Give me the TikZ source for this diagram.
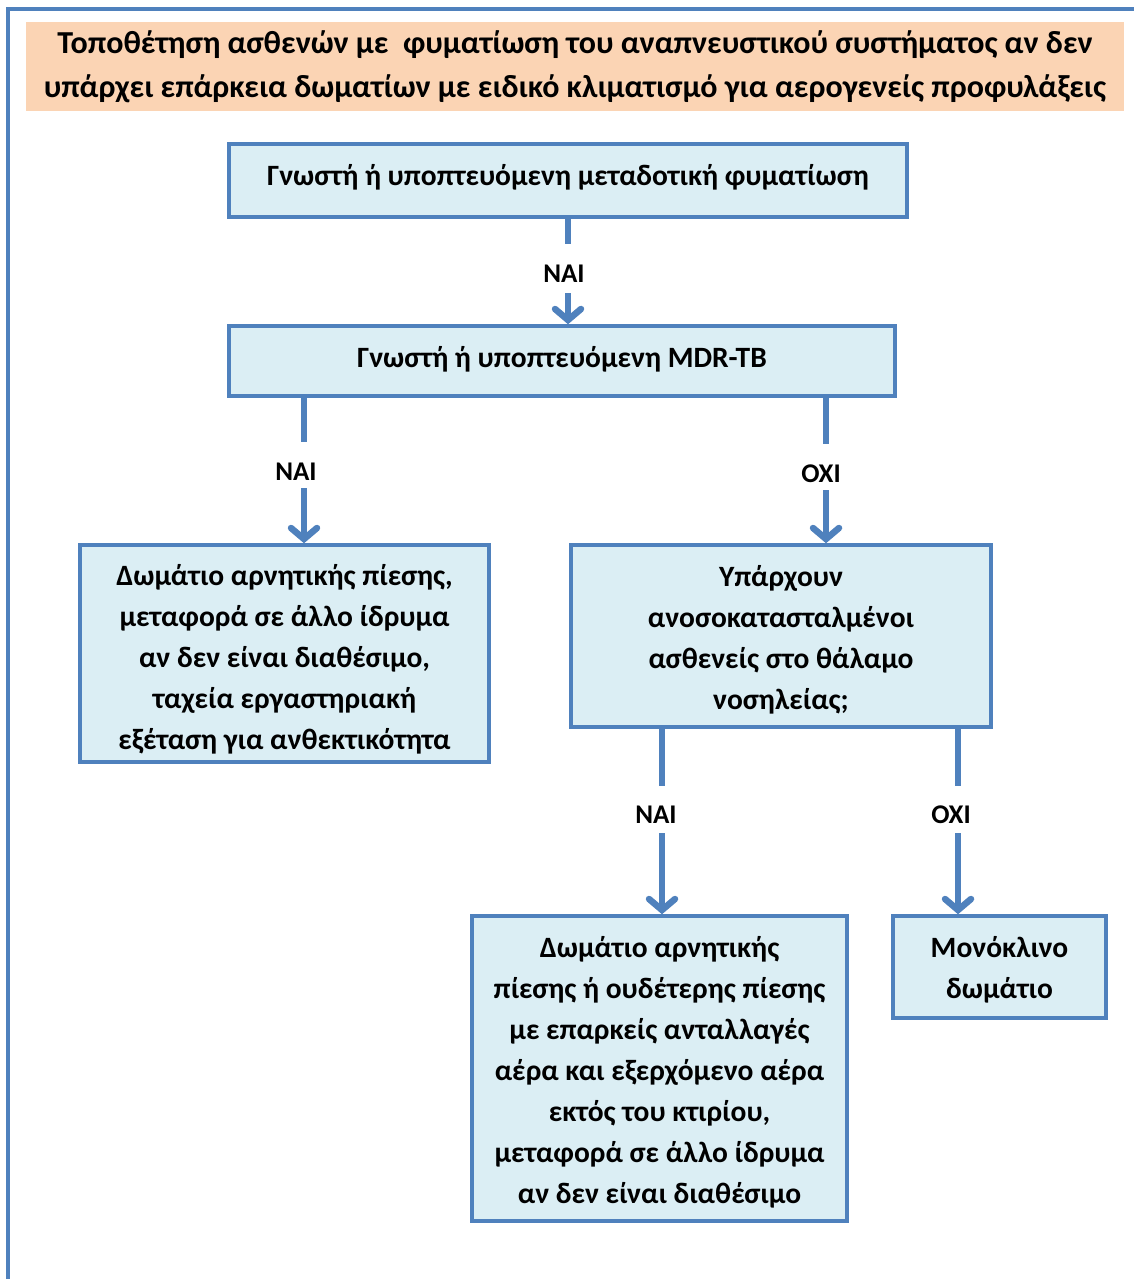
\documentclass[tikz,border=0pt]{standalone}
\usepackage{fontspec}
\setmainfont{Carlito}
\usetikzlibrary{arrows.meta}
\definecolor{edgeblue}{HTML}{4F81BD}
\definecolor{boxfill}{HTML}{DBEEF4}
\definecolor{peach}{HTML}{FBD4B4}
\begin{document}
\begin{tikzpicture}[x=1pt,y=-1pt,
  box/.style={draw=edgeblue,fill=boxfill,line width=3.5pt,inner sep=0pt},
  txt/.style={align=center,inner sep=0pt,font=\fontsize{29.5}{41}\selectfont\bfseries},
  lbl/.style={font=\fontsize{27}{30}\selectfont\bfseries,inner sep=0pt},
  conn/.style={draw=edgeblue,line width=6.5pt},
  arr/.style={conn,-{Straight Barb[length=11pt,width=26pt,line cap=round]}}]
\useasboundingbox (0,0) rectangle (1134,1279);
\fill[white] (0,0) rectangle (1134,1279);
% outer frame
\draw[draw=edgeblue,line width=4.5pt,line join=miter] (8,1279) -- (8,9) -- (1134,9);
% header
\node[fill=peach,minimum width=1098pt,minimum height=89pt,inner sep=0pt,align=center,
  font=\fontsize{32}{44}\selectfont\bfseries] (head) at (575,66.5)
  {Τοποθέτηση ασθενών με\ \ φυματίωση του αναπνευστικού συστήματος αν δεν\\
   υπάρχει επάρκεια δωματίων με ειδικό κλιματισμό για αερογενείς προφυλάξεις};
% boxes
\node[box,minimum width=678pt,minimum height=73pt] (b1) at (568,180.5) {};
\node[box,minimum width=666pt,minimum height=70pt] (b2) at (562,361) {};
\node[box,minimum width=409pt,minimum height=217pt] (b3) at (284.5,653.5) {};
\node[box,minimum width=420pt,minimum height=182pt] (b4) at (781,636) {};
\node[box,minimum width=375pt,minimum height=305pt] (b5) at (659.5,1068.5) {};
\node[box,minimum width=213pt,minimum height=102pt] (b6) at (999.5,967) {};
% box texts
\node[txt] (t1) at ([yshift=3pt]b1.center) {Γνωστή ή υποπτευόμενη μεταδοτική φυματίωση};
\node[txt] (t2) at ([yshift=2pt]b2.center) {Γνωστή ή υποπτευόμενη MDR-TB};
\node[txt] (t3) at ([yshift=-6pt]b3.center)
  {Δωμάτιο αρνητικής πίεσης,\\ μεταφορά σε άλλο ίδρυμα\\ αν δεν είναι διαθέσιμο,\\
   ταχεία εργαστηριακή\\ εξέταση για ανθεκτικότητα};
\node[txt] (t4) at ([yshift=-4pt]b4.center)
  {Υπάρχουν\\ ανοσοκατασταλμένοι\\ ασθενείς στο θάλαμο\\ νοσηλείας;};
\node[txt] (t5) at ([yshift=-4pt]b5.center)
  {Δωμάτιο αρνητικής\\ πίεσης ή ουδέτερης πίεσης\\ με επαρκείς ανταλλαγές\\
   αέρα και εξερχόμενο αέρα\\ εκτός του κτιρίου,\\ μεταφορά σε άλλο ίδρυμα\\ αν δεν είναι διαθέσιμο};
\node[txt] (t6) at ([yshift=-3pt]b6.center) {Μονόκλινο\\ δωμάτιο};
% labels
\node[lbl] (l1) at (564,274) {NAI};
\node[lbl] (l2) at (296,472) {NAI};
\node[lbl] (l3) at (821,474) {OXI};
\node[lbl] (l4) at (656,815) {NAI};
\node[lbl] (l5) at (951,815) {OXI};
% break points
\coordinate (s1) at (568,244); \coordinate (e1) at (568,293);
\coordinate (s2) at (304,442); \coordinate (e2) at (304,488);
\coordinate (s3) at (826,444); \coordinate (e3) at (826,490);
\coordinate (s4) at (662,786); \coordinate (e4) at (662,833);
\coordinate (s5) at (958,786); \coordinate (e5) at (958,833);
% connectors
\draw[conn] (b1.south -| s1) -- (s1);  \draw[arr] (e1) -- (b2.north -| e1);
\draw[conn] (b2.south -| s2) -- (s2);  \draw[arr] (e2) -- (b3.north -| e2);
\draw[conn] (b2.south -| s3) -- (s3);  \draw[arr] (e3) -- (b4.north -| e3);
\draw[conn] (b4.south -| s4) -- (s4);  \draw[arr] (e4) -- (b5.north -| e4);
\draw[conn] (b4.south -| s5) -- (s5);  \draw[arr] (e5) -- (b6.north -| e5);
\end{tikzpicture}
\end{document}
